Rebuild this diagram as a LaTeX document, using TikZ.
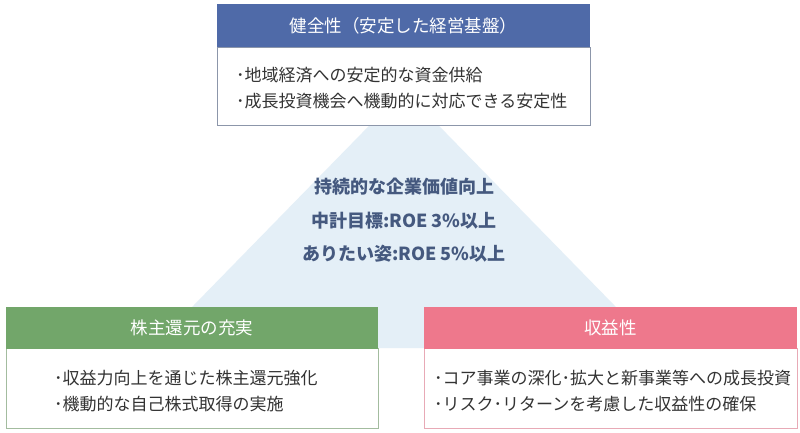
\documentclass[tikz,border=0pt]{standalone}
\usepackage{fontspec}
\setmainfont{Noto Sans CJK JP}
\definecolor{hblue}{HTML}{4F6AA8}
\definecolor{hgreen}{HTML}{72A66A}
\definecolor{hpink}{HTML}{EE788C}
\definecolor{tri}{HTML}{E4EFF7}
\definecolor{ctext}{HTML}{45597F}
\definecolor{btext}{HTML}{333333}
\definecolor{lblue}{HTML}{8C96AA}
\definecolor{lgreen}{HTML}{A3BC9F}
\definecolor{lpink}{HTML}{E8AAB6}
\tikzset{
  head/.style={anchor=north west, inner sep=0pt, minimum height=43pt, text=white, font=\fontsize{17.5}{20}\selectfont},
  body/.style={anchor=north west, inner sep=0pt, fill=white, line width=0.8pt},
  item/.style={anchor=west, inner sep=0pt, text=btext, font=\fontsize{17}{20}\selectfont},
  mid/.style={inner sep=0pt, text=ctext, font=\fontsize{18}{20}\selectfont\bfseries}
}
\begin{document}
\begin{tikzpicture}[x=1pt,y=-1pt]
\useasboundingbox (0,0) rectangle (800,433);
\fill[white] (0,0) rectangle (800,433);
% triangle
\fill[tri] (404,90) -- (152,348) -- (656,348) -- cycle;
% top box
\node[body, draw=lblue, minimum width=373pt, minimum height=78pt] (tb) at (217,47) {};
\node[head, fill=hblue, minimum width=373pt] (th) at (217,4) {健全性（安定した経営基盤）};
\node[item] (t1) at (236,75) {･地域経済への安定的な資金供給};
\node[item] (t2) at (236,101) {･成長投資機会へ機動的に対応できる安定性};
% left box
\node[body, draw=lgreen, minimum width=372pt, minimum height=80pt] (lb) at (6,348) {};
\node[head, fill=hgreen, minimum width=372pt, minimum height=42pt] (lh) at (6,307) {株主還元の充実};
\node[item] (l1) at (54,378) {･収益力向上を通じた株主還元強化};
\node[item] (l2) at (54,404) {･機動的な自己株式取得の実施};
% right box
\node[body, draw=lpink, minimum width=373pt, minimum height=80pt] (rb) at (424,348) {};
\node[head, fill=hpink, minimum width=373pt, minimum height=42pt] (rh) at (424,307) {収益性};
\node[item] (r1) at (434,378) {･コア事業の深化･拡大と新事業等への成長投資};
\node[item] (r2) at (434,404) {･リスク･リターンを考慮した収益性の確保};
% center text
\node[mid] (c1) at (404,187) {持続的な企業価値向上};
\node[mid] (c2) at (404,221) {中計目標:ROE 3\%以上};
\node[mid] (c3) at (404,254) {ありたい姿:ROE 5\%以上};
\end{tikzpicture}
\end{document}
